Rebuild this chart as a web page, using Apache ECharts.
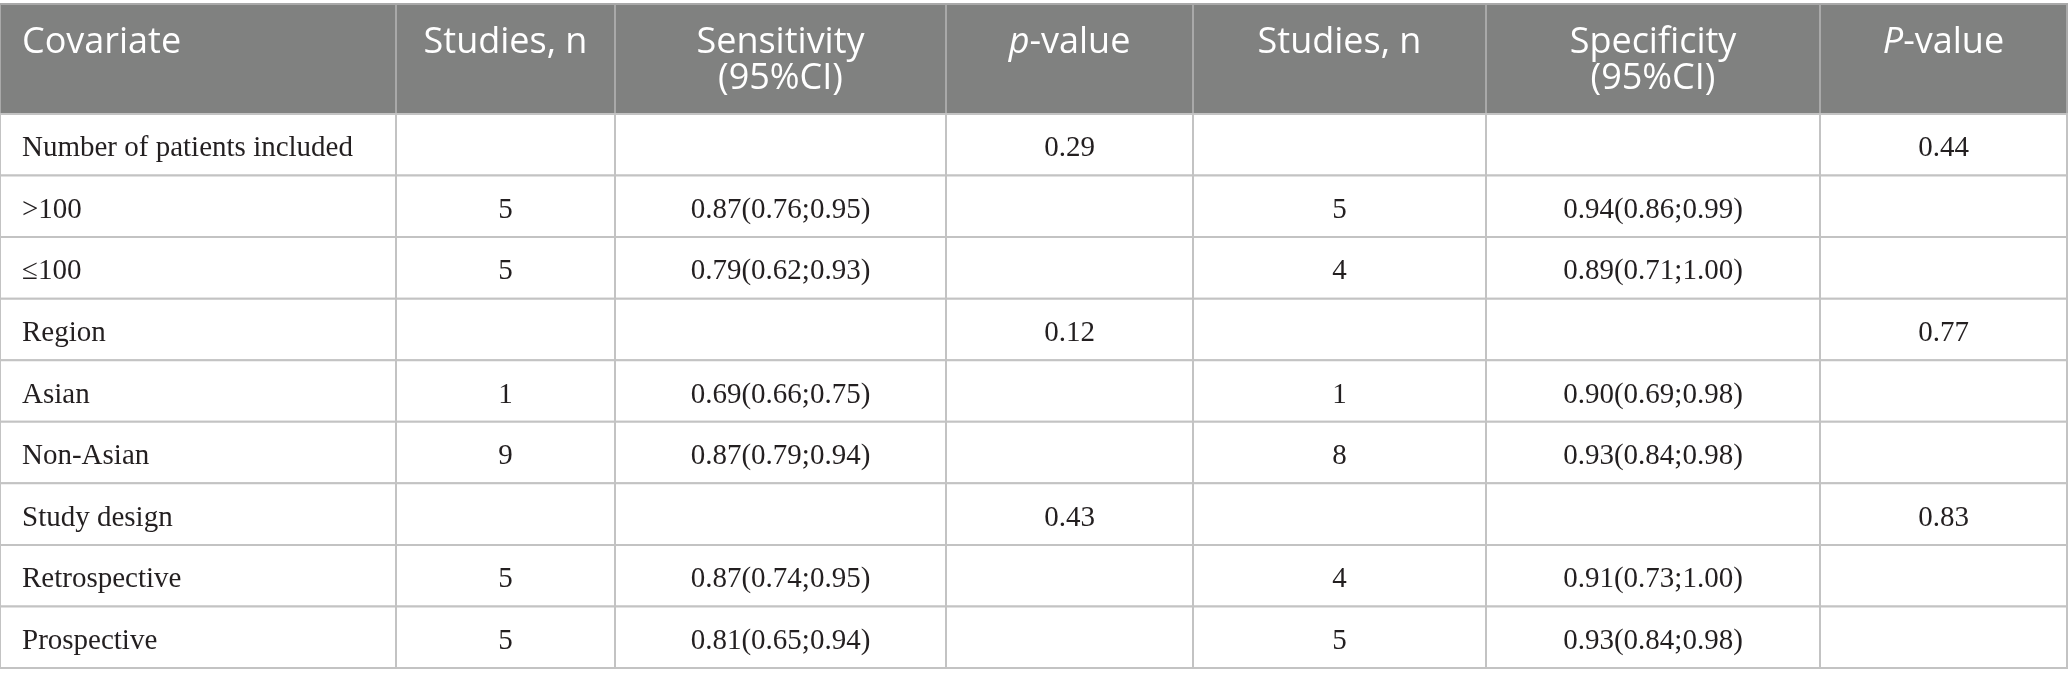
<!DOCTYPE html>
<html>
<head>
<meta charset="utf-8">
<script src="https://cdn.jsdelivr.net/npm/echarts@6/dist/echarts.min.js"></script>
<style>
html,body{margin:0;padding:0;background:#fff;}
#chart{width:2068px;height:686px;}
</style>
</head>
<body>
<div id="chart"></div>
<script>
// ---- data ----
var headers = ['Covariate', 'Studies, n', 'Sensitivity\n(95%CI)', '{i|p}-value', 'Studies, n', 'Specificity\n(95%CI)', '{i|P}-value'];
var covariates = ['Number of patients included', '>100', '\u2264100', 'Region', 'Asian', 'Non-Asian', 'Study design', 'Retrospective', 'Prospective'];
var sensStudies = ['', '5', '5', '', '1', '9', '', '5', '5'];
var sensitivity = ['', '0.87(0.76;0.95)', '0.79(0.62;0.93)', '', '0.69(0.66;0.75)', '0.87(0.79;0.94)', '', '0.87(0.74;0.95)', '0.81(0.65;0.94)'];
var sensP = ['0.29', '', '', '0.12', '', '', '0.43', '', ''];
var specStudies = ['', '5', '4', '', '1', '8', '', '4', '5'];
var specificity = ['', '0.94(0.86;0.99)', '0.89(0.71;1.00)', '', '0.90(0.69;0.98)', '0.93(0.84;0.98)', '', '0.91(0.73;1.00)', '0.93(0.84;0.98)'];
var specP = ['0.44', '', '', '0.77', '', '', '0.83', '', ''];

// ---- layout (table geometry in axis units) ----
var colEdges = [0, 396, 615, 946, 1193, 1486, 1820, 2067];
var headerH = 110;
var tableH = 664;
var rowH = (tableH - headerH) / covariates.length;

var columns = [covariates, sensStudies, sensitivity, sensP, specStudies, specificity, specP];

var cells = [];
for (var c = 0; c < headers.length; c++) {
  cells.push([colEdges[c], colEdges[c + 1], 0, headerH, headers[c], c, -1]);
}
for (var r = 0; r < covariates.length; r++) {
  for (var c2 = 0; c2 < columns.length; c2++) {
    var y0 = headerH + r * rowH;
    cells.push([colEdges[c2], colEdges[c2 + 1], y0, y0 + rowH, columns[c2][r], c2, r]);
  }
}

var chart = echarts.init(document.getElementById('chart'), null, {renderer: 'canvas'});

var headFont = '"Open Sans", "Noto Sans", sans-serif';
var bodyFont = '"Liberation Serif", "DejaVu Serif", serif';

chart.setOption({
  animation: false,
  backgroundColor: '#ffffff',
  grid: {left: 0, top: 4, width: 2067, height: 664, containLabel: false},
  xAxis: {type: 'value', min: 0, max: 2067, show: false},
  yAxis: {type: 'value', min: 0, max: 664, inverse: true, show: false},
  series: [{
    type: 'custom',
    coordinateSystem: 'cartesian2d',
    data: cells,
    clip: false,
    renderItem: function (params, api) {
      var x0 = api.value(0), x1 = api.value(1), y0 = api.value(2), y1 = api.value(3);
      var col = api.value(5), row = api.value(6);
      var text = cells[params.dataIndex][4];
      var p0 = api.coord([x0, y0]);
      var p1 = api.coord([x1, y1]);
      var isHead = row < 0;
      var children = [{
        type: 'rect',
        shape: {x: p0[0], y: p0[1], width: p1[0] - p0[0], height: p1[1] - p0[1]},
        style: {fill: isHead ? '#808180' : '#ffffff', stroke: isHead ? '#a9a9a9' : '#c3c3c3', lineWidth: 2}
      }];
      if (text) {
        var left = col === 0;
        var tx = left ? p0[0] + 22 : (p0[0] + p1[0]) / 2;
        if (isHead) {
          children.push({
            type: 'text',
            z2: 10,
            style: {
              text: text,
              x: tx,
              y: p0[1] + 21,
              align: left ? 'left' : 'center',
              verticalAlign: 'top',
              fill: '#ffffff',
              font: '36px ' + headFont,
              lineHeight: 36,
              rich: {
                i: {fontStyle: 'italic', fontSize: 36, fontFamily: headFont, fill: '#ffffff', lineHeight: 36}
              }
            }
          });
        } else {
          children.push({
            type: 'text',
            z2: 10,
            style: {
              text: text,
              x: tx,
              y: (p0[1] + p1[1]) / 2 + 4,
              align: left ? 'left' : 'center',
              verticalAlign: 'middle',
              fill: '#231f20',
              font: '29px ' + bodyFont
            }
          });
        }
      }
      return {type: 'group', children: children};
    }
  }]
});
</script>
</body>
</html>
